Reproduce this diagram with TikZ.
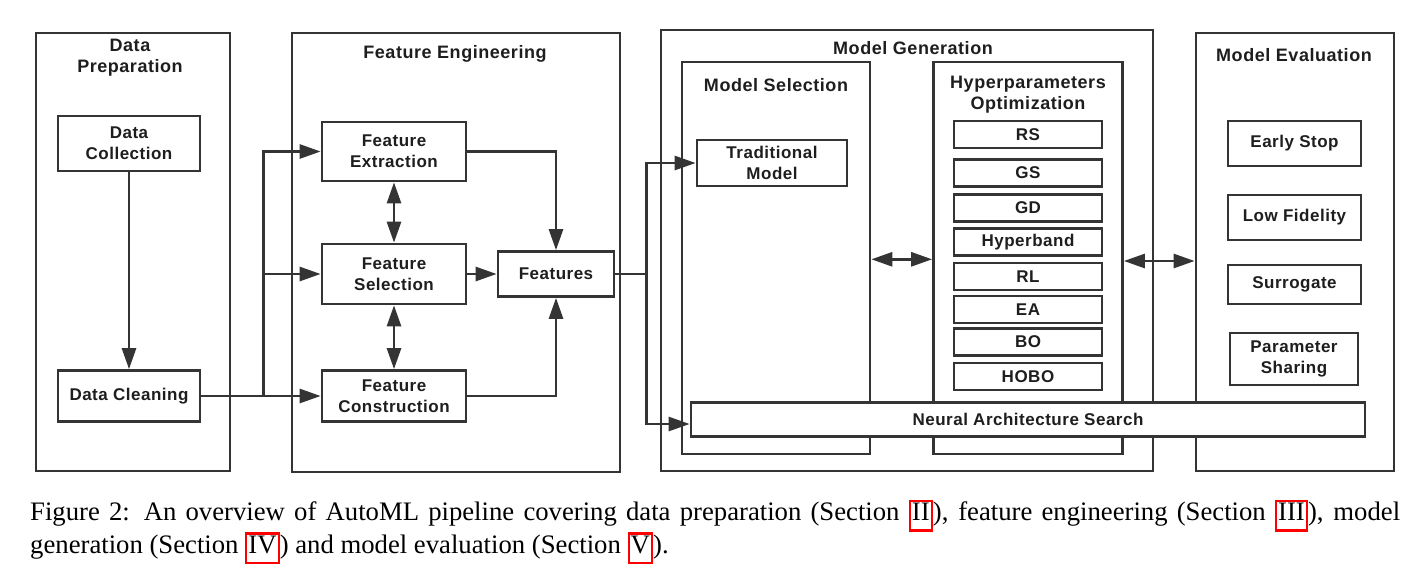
\documentclass[tikz,border=0pt]{standalone}
\usepackage{fontspec}
\setmainfont{Liberation Serif}
\setsansfont{Liberation Sans}
\newfontfamily\boxsans[LetterSpace=3]{Liberation Sans}
\usepackage{tikz}
\usetikzlibrary{arrows.meta, positioning, calc}
\definecolor{linegray}{RGB}{52, 52, 52}
\definecolor{textgray}{RGB}{30, 30, 30}
\newcommand{\boxfont}{\fontsize{17}{21}\selectfont\boxsans\bfseries}
\newcommand{\ttlfont}{\fontsize{18}{21}\selectfont\boxsans\bfseries}
\newcommand{\capfont}{\fontsize{26.7}{32.5}\selectfont\rmfamily}
\newcommand{\seclink}[1]{{\setlength{\fboxrule}{2.2pt}\setlength{\fboxsep}{1pt}\color{red}\fbox{\color{black}\rule[-0.29em]{0pt}{0.92em}#1}}}

\begin{document}
\begin{tikzpicture}[x=1pt, y=-1pt,
  panel/.style={draw=linegray, line width=2.7pt, inner sep=0pt},
  box/.style={draw=linegray, line width=2.7pt, fill=white, align=center, font=\boxfont, text=textgray, inner sep=2pt},
  ttl/.style={align=center, font=\ttlfont, text=textgray},
  ln/.style={draw=linegray, line width=2.7pt},
  arr/.style={ln, -{Triangle[length=21pt, width=14pt]}},
  darr/.style={ln, {Triangle[length=21pt, width=14pt]}-{Triangle[length=21pt, width=14pt]}}
]
  \useasboundingbox (0,0) rectangle (1411,574);

  % panels
  \node[panel, minimum width=194, minimum height=438] (prep) at (133, 252) {};
  \node[panel, minimum width=328, minimum height=439] (feng) at (456, 252.5) {};
  \node[panel, minimum width=492, minimum height=441] (mgen) at (907, 250.5) {};
  \node[panel, minimum width=188, minimum height=392] (msel) at (776, 258) {};
  \node[panel, minimum width=189, minimum height=392] (hpo) at (1028, 258) {};
  \node[panel, minimum width=198, minimum height=438] (meval) at (1295, 252) {};

  \node[ttl] (preptitle) at (130, 57.5) {Data\\Preparation};
  \node[ttl] (fengtitle) at (455, 54) {Feature Engineering};
  \node[ttl] (mgentitle) at (913, 48) {Model Generation};
  \node[ttl] (mseltitle) at (776, 85) {Model Selection};
  \node[ttl] (hpotitle) at (1028, 94.5) {Hyperparameters\\Optimization};
  \node[ttl] (mevaltitle) at (1294, 55) {Model Evaluation};

  % data preparation
  \node[box, minimum width=142, minimum height=55] (collect) at (129, 143.5) {Data\\Collection};
  \node[box, minimum width=142, minimum height=51] (clean) at (129, 396) {Data Cleaning};

  % feature engineering
  \node[box, minimum width=144, minimum height=59] (fext) at (394, 151.5) {Feature\\Extraction};
  \node[box, minimum width=144, minimum height=60] (fsel) at (394, 274) {Feature\\Selection};
  \node[box, minimum width=144, minimum height=51] (fcon) at (394, 396) {Feature\\Construction};
  \node[box, minimum width=116, minimum height=45] (feats) at (556, 274) {Features};

  % model generation
  \node[box, minimum width=150, minimum height=46] (trad) at (772, 163) {Traditional\\Model};
  \foreach \name/\txt/\yy in {rs/RS/134.5, gs/GS/173, gd/GD/208, hb/Hyperband/242,
                              rl/RL/276.5, ea/EA/309.5, bo/BO/342, hobo/HOBO/376.5}
    \node[box, minimum width=148, minimum height=27, inner sep=0pt] (\name) at (1028, \yy) {\txt};

  % model evaluation
  \node[box, minimum width=133, minimum height=45] (estop) at (1294.5, 143.5) {Early Stop};
  \node[box, minimum width=133, minimum height=45] (lowfid) at (1294.5, 217.5) {Low Fidelity};
  \node[box, minimum width=133, minimum height=39] (surr) at (1294.5, 284.5) {Surrogate};
  \node[box, minimum width=128, minimum height=52] (pshare) at (1294, 359) {Parameter\\Sharing};

  \node[box, minimum width=674, minimum height=34] (nas) at (1028, 419.5) {Neural Architecture Search};

  % connectors
  \coordinate (split1) at ($(clean.east)+(62,0)$);
  \coordinate (split2) at ($(feats.east)+(31,0)$);
  \draw[arr] (collect) -- (clean);
  \draw[arr] (clean) -- (fcon);
  \draw[arr] (split1) |- (fext.west);
  \draw[arr] (split1) |- (fsel.west);
  \draw[darr] (fext) -- (fsel);
  \draw[darr] (fsel) -- (fcon);
  \draw[arr] (fsel) -- (feats);
  \draw[arr] (fext.east) -| (feats.north);
  \draw[arr] (fcon.east) -| (feats.south);
  \draw[ln] (feats.east) -- (split2);
  \draw[arr] (split2) |- (trad.west);
  \draw[arr] (split2) |- ($(nas.west)+(0,4.5)$);
  \draw[darr] ($(msel.east)+(0,1.3)$) -- ($(hpo.west)+(0,1.3)$);
  \draw[darr] ($(hpo.east)+(0,3)$) -- ($(hpo.east -| meval.west)+(0,3)$);

  % caption
  \node[anchor=base west, font=\capfont, inner sep=0pt] (capline1) at (30, 520.7)
    {\makebox[1370pt][s]{Figure 2: An overview of AutoML pipeline covering data preparation (Section \seclink{II}), feature engineering (Section \seclink{III}), model}};
  \node[anchor=base west, font=\capfont, inner sep=0pt] (capline2) at (30, 553)
    {generation (Section \seclink{IV}) and model evaluation (Section \seclink{V}).};
\end{tikzpicture}
\end{document}
